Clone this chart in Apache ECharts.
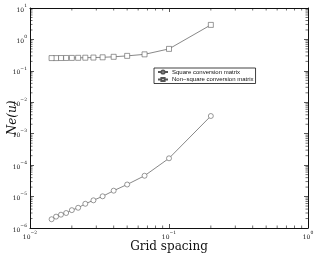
<!DOCTYPE html>
<html>
<head>
<meta charset="utf-8">
<script src="https://cdn.jsdelivr.net/npm/echarts@6/dist/echarts.min.js"></script>
<style>
  html, body { margin: 0; padding: 0; background: #fff; }
  #chart { width: 314px; height: 255px; }
</style>
</head>
<body>
<div id="chart"></div>
<script>
// grid spacing h = 1/N, N = 5..70
const gridSpacing = [0.2, 0.1, 0.0667, 0.05, 0.04, 0.0333, 0.0286, 0.025, 0.0222, 0.02, 0.0182, 0.0167, 0.0154, 0.0143]
const squareErr = [3.66e-3, 1.65e-4, 4.6e-5, 2.42e-5, 1.54e-5, 1.02e-5, 7.6e-6, 5.9e-6, 4.4e-6, 3.7e-6, 3.0e-6, 2.65e-6, 2.3e-6, 1.9e-6]
const nonSquareErr = [2.9, 0.5, 0.335, 0.3, 0.28, 0.27, 0.265, 0.262, 0.26, 0.258, 0.257, 0.256, 0.255, 0.255]
const seriesNames = ['Square conversion matrix', 'Non\u2212square conversion matrix']

// minor tick positions (log axis decorations)
const minorMult = [2, 3, 4, 5, 6, 7, 8, 9]
const xDecades = [0.01, 0.1]
const yDecades = [1e-6, 1e-5, 1e-4, 1e-3, 1e-2, 1e-1, 1]

const X_MIN = 0.01, X_MAX = 1, Y_MIN = 1e-6, Y_MAX = 10
const ink = '#111'
const lineInk = '#555'

const xMinor = []
xDecades.forEach(d => minorMult.forEach(m => xMinor.push([d * m, Y_MIN])))
const yMinor = []
yDecades.forEach(d => minorMult.forEach(m => yMinor.push([X_MIN, d * m])))

function powLabel(v) {
  const e = Math.round(Math.log10(v))
  return '{b|10}{s|' + (e < 0 ? '\u2212' + (-e) : e) + '}'
}
const labelRich = {
  b: { fontSize: 6, fontFamily: 'DejaVu Serif', color: ink, verticalAlign: 'bottom', lineHeight: 10, padding: [3, 0, 0, 0] },
  s: { fontSize: 4.5, fontFamily: 'DejaVu Serif', color: ink, verticalAlign: 'top', lineHeight: 10, padding: [0, 0, 3, 0] }
}

function minorTicks(dir) {
  return function (params, api) {
    const cs = params.coordSys
    const p = api.coord([api.value(0), api.value(1)])
    const len = 2.5
    const style = { stroke: ink, lineWidth: 0.6 }
    if (dir === 'x') {
      const yb = cs.y + cs.height, yt = cs.y
      return { type: 'group', children: [
        { type: 'line', shape: { x1: p[0], y1: yb, x2: p[0], y2: yb - len }, style },
        { type: 'line', shape: { x1: p[0], y1: yt, x2: p[0], y2: yt + len }, style }
      ] }
    }
    const xl = cs.x, xr = cs.x + cs.width
    return { type: 'group', children: [
      { type: 'line', shape: { x1: xl, y1: p[1], x2: xl + len, y2: p[1] }, style },
      { type: 'line', shape: { x1: xr, y1: p[1], x2: xr - len, y2: p[1] }, style }
    ] }
  }
}

const chart = echarts.init(document.getElementById('chart'), null, { renderer: 'canvas' })

const axisCommon = {
  type: 'log',
  logBase: 10,
  axisLine: { show: true, onZero: false, lineStyle: { color: ink, width: 1 } },
  axisTick: { show: true, inside: true, length: 4, lineStyle: { color: ink, width: 0.7 } },
  splitLine: { show: false },
  minorTick: { show: false }
}

const markerStyle = { color: '#fff', borderColor: lineInk, borderWidth: 0.6 }

chart.setOption({
  animation: false,
  backgroundColor: '#fff',
  grid: { left: 30, right: 6, top: 8, bottom: 27, containLabel: false, outerBoundsMode: 'none' },
  legend: {
    data: seriesNames,
    orient: 'vertical',
    left: 154,
    top: 68,
    padding: [1, 2, 1, 3],
    itemGap: 1.5,
    itemWidth: 10,
    itemHeight: 4,
    borderColor: ink,
    borderWidth: 0.8,
    borderRadius: 0,
    backgroundColor: '#fff',
    textStyle: { fontSize: 6, fontFamily: 'Liberation Sans', color: ink, padding: [0, 0, 0, -1] }
  },
  xAxis: [
    Object.assign({}, axisCommon, {
      min: X_MIN, max: X_MAX, splitNumber: 2,
      position: 'bottom',
      name: 'Grid spacing',
      nameLocation: 'middle',
      nameGap: 13,
      nameMoveOverlap: false,
      nameTextStyle: { fontSize: 12, fontFamily: 'DejaVu Serif', color: ink },
      axisLabel: { formatter: powLabel, rich: labelRich, margin: 2, showMinLabel: true, showMaxLabel: true }
    }),
    Object.assign({}, axisCommon, {
      min: X_MIN, max: X_MAX, splitNumber: 2,
      position: 'top',
      axisLabel: { show: false }
    })
  ],
  yAxis: [
    Object.assign({}, axisCommon, {
      min: Y_MIN, max: Y_MAX, splitNumber: 7,
      position: 'left',
      name: 'Ne(u)',
      nameLocation: 'middle',
      nameRotate: 90,
      nameGap: 11,
      nameMoveOverlap: false,
      nameTextStyle: { fontSize: 12, fontFamily: 'DejaVu Serif', fontStyle: 'italic', color: ink },
      axisLabel: { formatter: powLabel, rich: labelRich, margin: 3 }
    }),
    Object.assign({}, axisCommon, {
      min: Y_MIN, max: Y_MAX, splitNumber: 7,
      position: 'right',
      axisLabel: { show: false }
    })
  ],
  series: [
    {
      name: seriesNames[0],
      type: 'line',
      data: gridSpacing.map((x, i) => [x, squareErr[i]]),
      symbol: 'circle',
      symbolSize: 5,
      lineStyle: { color: lineInk, width: 0.7 },
      itemStyle: markerStyle
    },
    {
      name: seriesNames[1],
      type: 'line',
      data: gridSpacing.map((x, i) => [x, nonSquareErr[i]]),
      symbol: 'rect',
      symbolSize: 5,
      lineStyle: { color: lineInk, width: 0.7 },
      itemStyle: markerStyle
    },
    {
      type: 'custom',
      renderItem: minorTicks('x'),
      data: xMinor,
      silent: true,
      z: 1
    },
    {
      type: 'custom',
      renderItem: minorTicks('y'),
      data: yMinor,
      silent: true,
      z: 1
    }
  ]
})
</script>
</body>
</html>
